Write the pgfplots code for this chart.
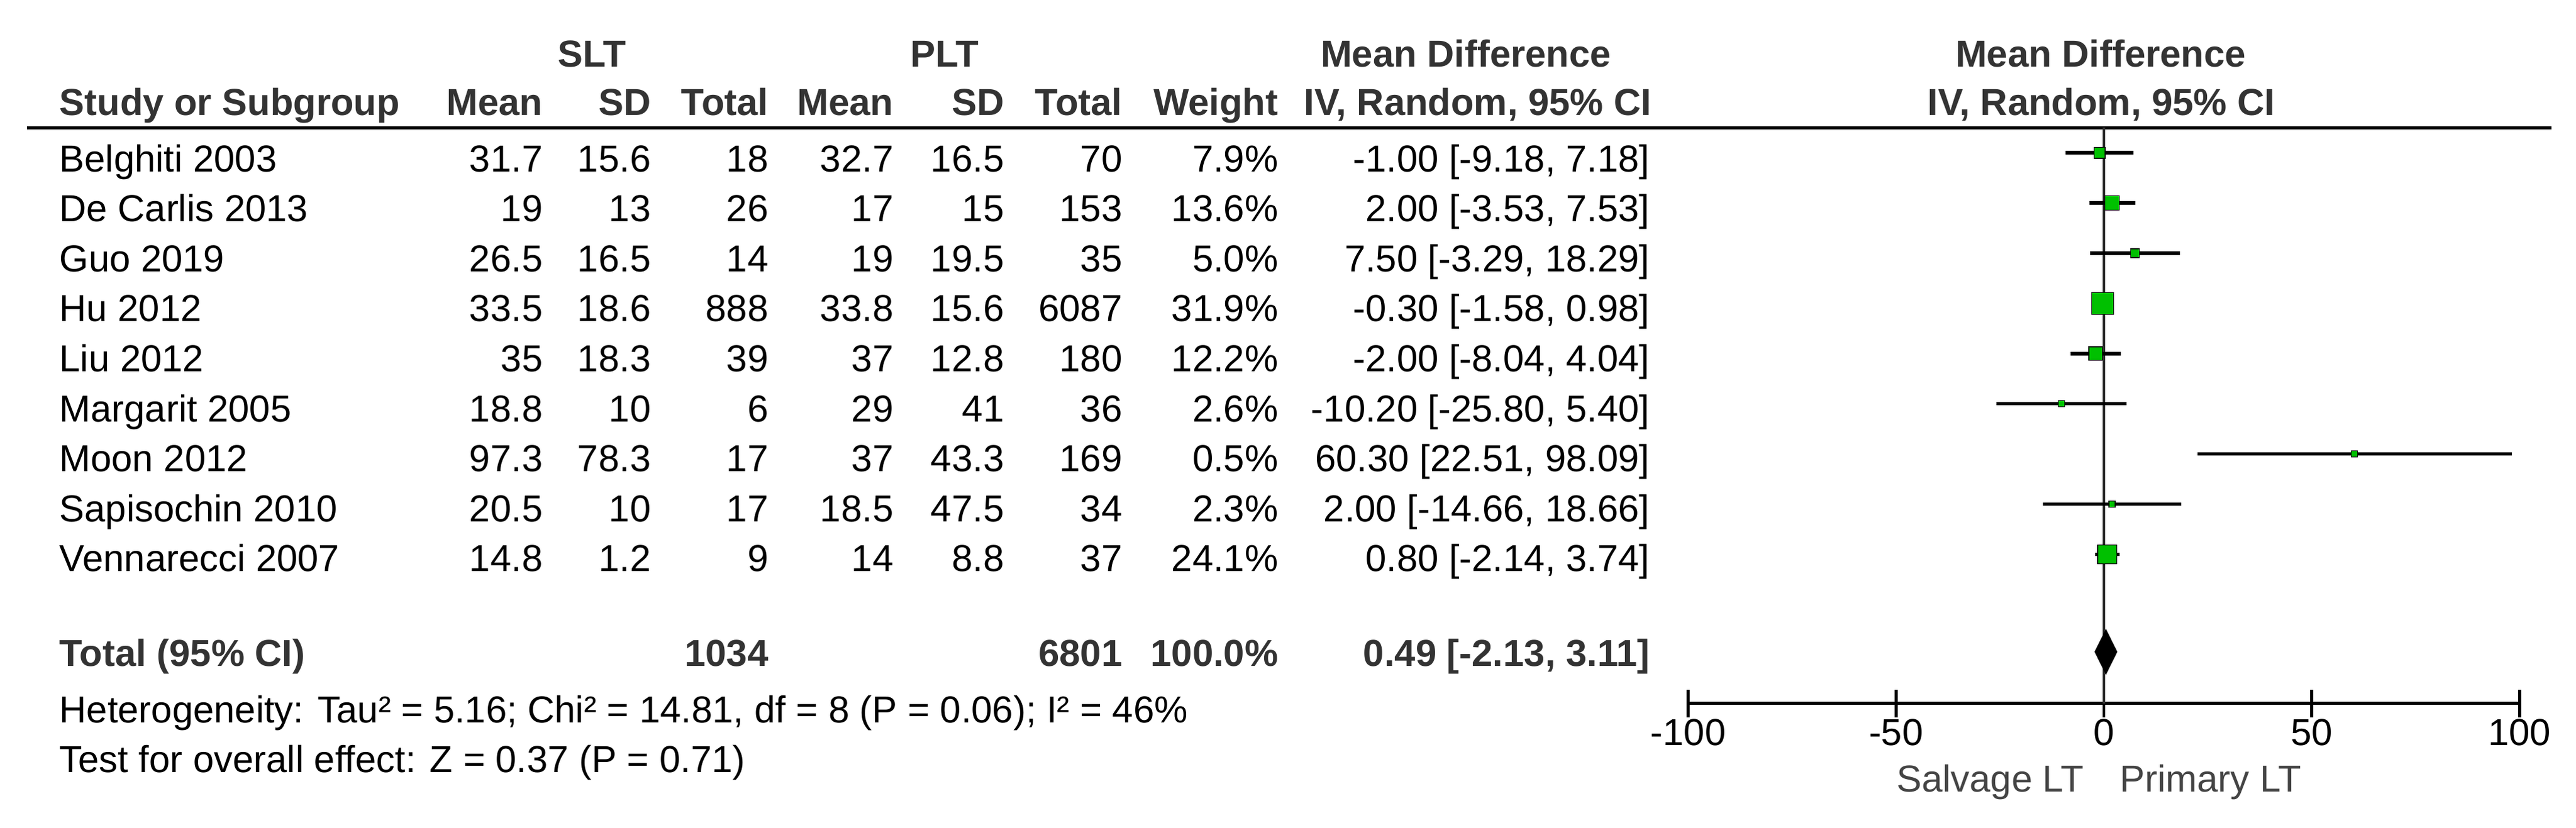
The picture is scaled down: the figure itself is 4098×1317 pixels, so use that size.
\documentclass[border=0pt]{standalone}
\usepackage{pgfplots}
\usepackage{pgfplotstable}
\pgfplotsset{compat=1.18}
\usepackage{fontspec}
\setmainfont{Liberation Sans}

\definecolor{boxgreen}{RGB}{0,192,0}
\definecolor{hdr}{RGB}{51,51,51}
\definecolor{zline}{RGB}{51,51,51}
\definecolor{foot}{RGB}{68,68,68}

% study rows: y = row position (9 = top), md = mean difference, w = weight (%)
\pgfplotstableread{
y md w
9 -1.00 7.9
8 2.00 13.6
7 7.50 5.0
6 -0.30 31.9
5 -2.00 12.2
4 -10.20 2.6
3 60.30 0.5
2 2.00 2.3
1 0.80 24.1
}\studies

% 95% CI segments (lo, hi), separated by nan
\pgfplotstableread{
x y
-9.18 9
7.18 9
nan nan
-3.53 8
7.53 8
nan nan
-3.29 7
18.29 7
nan nan
-1.58 6
0.98 6
nan nan
-8.04 5
4.04 5
nan nan
-25.80 4
5.40 4
nan nan
22.51 3
98.09 3
nan nan
-14.66 2
18.66 2
nan nan
-2.14 1
3.74 1
}\cis

\newcommand\fs{\fontsize{17}{20}\selectfont}

\begin{document}
\begin{tikzpicture}[font=\fs]
\begin{scope}[x=0.01cm,y=-0.01cm]
\useasboundingbox (0,0) rectangle (4098,1317);
% header
\begin{scope}[every node/.style={inner sep=0pt,text=hdr,font=\fs\bfseries}]
\node[anchor=base] at (942,106) {SLT};
\node[anchor=base] at (1503,106) {PLT};
\node[anchor=base] at (2332,106) {Mean Difference};
\node[anchor=base] at (3342,106) {Mean Difference};
\node[anchor=base west] at (94,183) {Study or Subgroup};
\node[anchor=base east] at (864,183) {Mean};
\node[anchor=base east] at (1036,183) {SD};
\node[anchor=base east] at (1223,183) {Total};
\node[anchor=base east] at (1422,183) {Mean};
\node[anchor=base east] at (1598,183) {SD};
\node[anchor=base east] at (1786,183) {Total};
\node[anchor=base east] at (2034,183) {Weight};
\node[anchor=base east] at (2628,183) {IV, Random, 95\% CI};
\node[anchor=base] at (3343,183) {IV, Random, 95\% CI};
% total row
\node[anchor=base west] at (94,1060) {Total (95\% CI)};
\node[anchor=base east] at (1223,1060) {1034};
\node[anchor=base east] at (1786,1060) {6801};
\node[anchor=base east] at (2034,1060) {100.0\%};
\node[anchor=base east] at (2625,1060) {0.49 [-2.13, 3.11]};
\end{scope}
\draw[line width=0.05cm] (43,203) -- (4059,203);
% study rows
\begin{scope}[every node/.style={inner sep=0pt}]
\foreach \n/\a/\b/\c/\d/\e/\f/\g/\h [count=\i from 0] in {
  Belghiti 2003/31.7/15.6/18/32.7/16.5/70/7.9/{-1.00 [-9.18, 7.18]},
  De Carlis 2013/19/13/26/17/15/153/13.6/{2.00 [-3.53, 7.53]},
  Guo 2019/26.5/16.5/14/19/19.5/35/5.0/{7.50 [-3.29, 18.29]},
  Hu 2012/33.5/18.6/888/33.8/15.6/6087/31.9/{-0.30 [-1.58, 0.98]},
  Liu 2012/35/18.3/39/37/12.8/180/12.2/{-2.00 [-8.04, 4.04]},
  Margarit 2005/18.8/10/6/29/41/36/2.6/{-10.20 [-25.80, 5.40]},
  Moon 2012/97.3/78.3/17/37/43.3/169/0.5/{60.30 [22.51, 98.09]},
  Sapisochin 2010/20.5/10/17/18.5/47.5/34/2.3/{2.00 [-14.66, 18.66]},
  Vennarecci 2007/14.8/1.2/9/14/8.8/37/24.1/{0.80 [-2.14, 3.74]}} {
  \pgfmathsetmacro\yb{273+79.6*\i}
  \node[anchor=base west] at (94,\yb) {\n};
  \node[anchor=base east] at (864,\yb) {\a};
  \node[anchor=base east] at (1036,\yb) {\b};
  \node[anchor=base east] at (1223,\yb) {\c};
  \node[anchor=base east] at (1422,\yb) {\d};
  \node[anchor=base east] at (1598,\yb) {\e};
  \node[anchor=base east] at (1786,\yb) {\f};
  \node[anchor=base east] at (2034,\yb) {\g\%};
  \node[anchor=base east] at (2625,\yb) {\h};
}
\node[anchor=base west] at (94,1150) {Heterogeneity: Tau² = 5.16; Chi² = 14.81, df = 8 (P = 0.06); I² = 46\%};
\node[anchor=base west] at (94,1229) {Test for overall effect: Z = 0.37 (P = 0.71)};
\node[anchor=base east,text=foot] at (3316,1260) {Salvage LT};
\node[anchor=base west,text=foot] at (3372,1260) {Primary LT};
\end{scope}
\end{scope}

\begin{axis}[
    at={(26.84cm,-11.19cm)}, anchor=south west,
    scale only axis, width=13.22cm, height=9.16cm,
    xmin=-100, xmax=100, ymin=-1.967, ymax=9.5,
    axis y line=none, axis x line=bottom,
    axis line style={-, line width=0.05cm},
    xtick={-100,-50,0,50,100},
    tick align=center, major tick length=0.44cm,
    tick style={black, line width=0.045cm},
    /pgf/number format/assume math mode=true,
    xticklabel style={font=\fs, anchor=north, inner sep=0pt, yshift=-0.02cm},
    clip=false,
]
\draw[zline, line width=0.04cm] (axis cs:0,-1.967) -- (axis cs:0,9.5);
% confidence intervals
\addplot[black, line width=0.055cm, mark=none, unbounded coords=jump, forget plot]
    table[x=x, y=y] {\cis};
% weight boxes
\addplot[scatter, only marks, mark=square*,
    scatter/use mapped color={draw=none, fill=boxgreen},
    visualization depends on={0.2845*max(5,17.5*sqrt(\thisrow{w}/31.9)) \as \hs},
    scatter/@pre marker code/.append style={/tikz/mark size=\hs pt}]
    table[x=md, y=y] {\studies};
% pooled estimate
\addplot[fill=black, draw=black] coordinates {
  (-2.13,-0.94) (0.49,-0.502) (3.11,-0.94) (0.49,-1.378)} -- cycle;
\end{axis}
\end{tikzpicture}
\end{document}
